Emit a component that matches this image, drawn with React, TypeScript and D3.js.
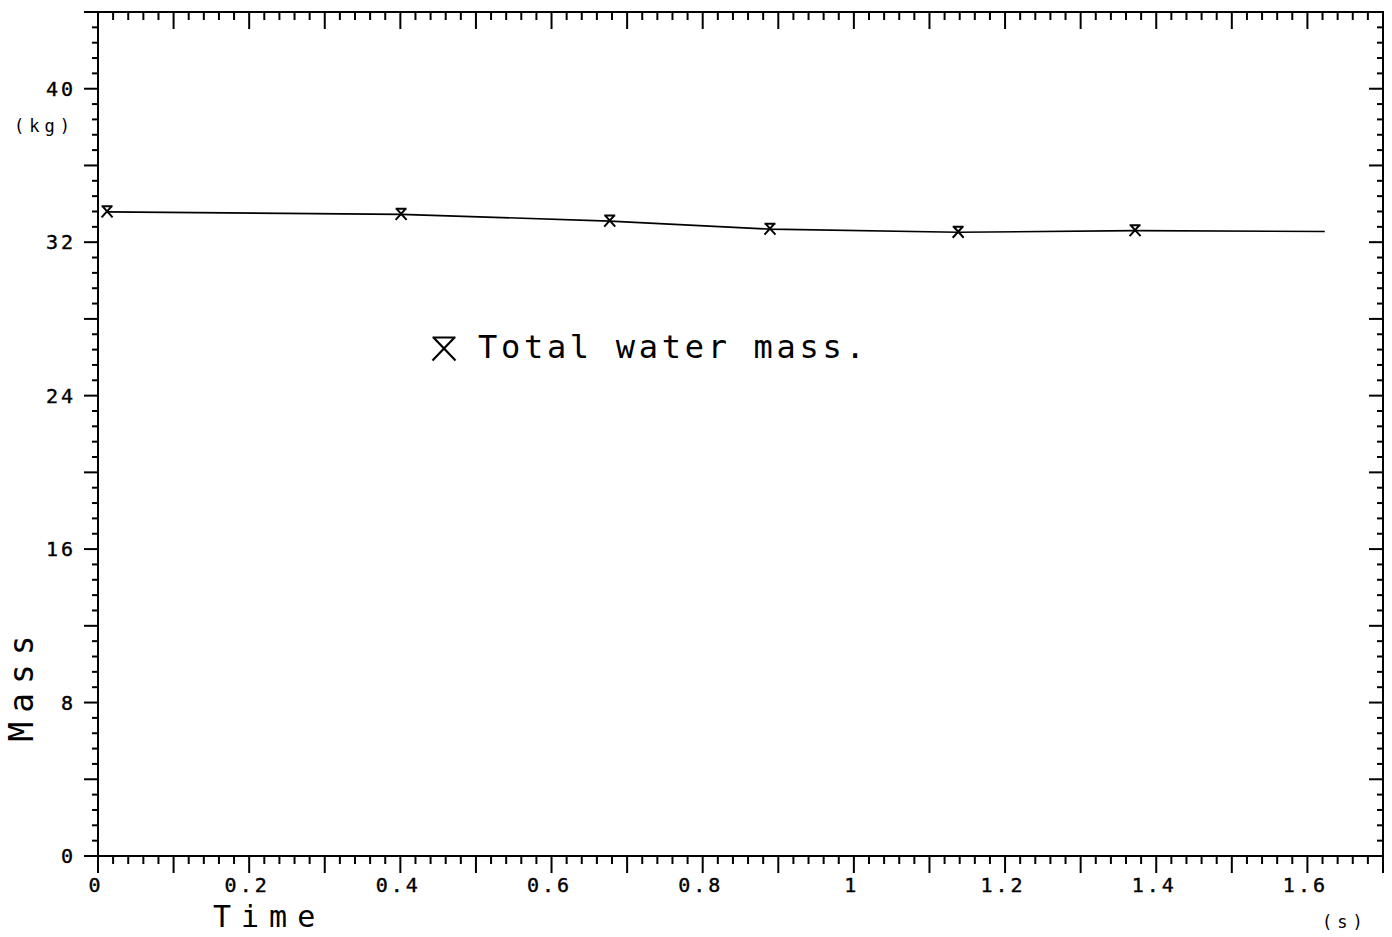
import * as d3 from 'd3';
import React, { useRef, useEffect } from 'react';

// time (s) and total water mass (kg)
const timeValues = [0.012, 0.401, 0.677, 0.889, 1.138, 1.372, 1.623];
const massValues = [33.58, 33.45, 33.1, 32.68, 32.52, 32.6, 32.56];
const markerCount = 6; // the last line point has no marker

const xLabels = ['0', '0.2', '0.4', '0.6', '0.8', '1', '1.2', '1.4', '1.6'];
const yLabels = ['0', '8', '16', '24', '32', '40'];

const W = 1392, H = 937;
const FONT = '"DejaVu Sans Mono", monospace';

const markerPath = (s) => {
    const h = s / 2;
    return `M${-h},${-h}L${h},${-h}M${-h + 1},${-h}L${h},${h}M${h - 1},${-h}L${-h},${h}`;
};

function Chart(){
    const ref = useRef();

    useEffect(() => {
        const svg = d3.select(ref.current);
        svg.selectAll('*').remove();

        const x = d3.scaleLinear().domain([0, 1.7]).range([98, 1383]);
        const y = d3.scaleLinear().domain([0, 44]).range([856, 12]);

        const xTicks = d3.range(0, 86).map(i => i * 0.02);
        const yTicks = d3.range(0, 56).map(i => i * 0.8);
        const isLong = (i) => i % 5 === 0;

        const g = svg.append('g').attr('stroke', '#000').attr('stroke-width', 2).attr('fill', 'none');

        // frame
        g.append('rect')
            .attr('x', x(0)).attr('y', y(44))
            .attr('width', x(1.7) - x(0)).attr('height', y(0) - y(44));

        // bottom ticks (outside)
        g.selectAll('.bt').data(xTicks).enter().append('line')
            .attr('x1', d => x(d)).attr('x2', d => x(d))
            .attr('y1', y(0)).attr('y2', (d, i) => y(0) + (isLong(i) ? 17 : 8));
        // top ticks (inside)
        g.selectAll('.tt').data(xTicks).enter().append('line')
            .attr('x1', d => x(d)).attr('x2', d => x(d))
            .attr('y1', y(44)).attr('y2', (d, i) => y(44) + (isLong(i) ? 17 : 8));
        // left ticks (outside)
        g.selectAll('.lt').data(yTicks).enter().append('line')
            .attr('y1', d => y(d)).attr('y2', d => y(d))
            .attr('x1', x(0)).attr('x2', (d, i) => x(0) - (isLong(i) ? 14 : 6));
        // right ticks (inside)
        g.selectAll('.rt').data(yTicks).enter().append('line')
            .attr('y1', d => y(d)).attr('y2', d => y(d))
            .attr('x1', x(1.7)).attr('x2', (d, i) => x(1.7) - (isLong(i) ? 14 : 6));

        // tick labels
        svg.selectAll('.xl').data(xLabels).enter().append('text')
            .attr('x', d => x(+d) - 2).attr('y', 892)
            .attr('text-anchor', 'middle')
            .attr('font-family', FONT).attr('font-size', 20).attr('letter-spacing', 3)
            .attr('stroke', '#000').attr('stroke-width', 0.4)
            .text(d => d);
        svg.selectAll('.yl').data(yLabels).enter().append('text')
            .attr('x', 76).attr('y', d => y(+d) + 7)
            .attr('text-anchor', 'end')
            .attr('font-family', FONT).attr('font-size', 20).attr('letter-spacing', 3)
            .attr('stroke', '#000').attr('stroke-width', 0.4)
            .text(d => d);

        // units and axis titles
        svg.append('text').attr('x', 14).attr('y', 132)
            .attr('font-family', FONT).attr('font-size', 17).attr('letter-spacing', 5)
            .text('(kg)');
        svg.append('text').attr('x', 1322).attr('y', 928)
            .attr('font-family', FONT).attr('font-size', 17).attr('letter-spacing', 5)
            .text('(s)');
        svg.append('text').attr('x', 213).attr('y', 927)
            .attr('font-family', FONT).attr('font-size', 30).attr('letter-spacing', 10)
            .text('Time');
        svg.append('text')
            .attr('transform', 'translate(33,684) rotate(-90)')
            .attr('text-anchor', 'middle')
            .attr('font-family', FONT).attr('font-size', 33).attr('letter-spacing', 9)
            .text('Mass');

        // data line
        const pts = timeValues.map((t, i) => [t, massValues[i]]);
        const line = d3.line().x(d => x(d[0])).y(d => y(d[1]));
        svg.append('path').datum(pts)
            .attr('d', line)
            .attr('fill', 'none').attr('stroke', '#000').attr('stroke-width', 1.6);

        // markers
        svg.selectAll('.mk').data(pts.slice(0, markerCount)).enter().append('path')
            .attr('transform', d => `translate(${x(d[0])},${y(d[1])})`)
            .attr('d', markerPath(11))
            .attr('fill', 'none').attr('stroke', '#000').attr('stroke-width', 2);

        // legend
        svg.append('path')
            .attr('transform', 'translate(444,349)')
            .attr('d', markerPath(23))
            .attr('fill', 'none').attr('stroke', '#000').attr('stroke-width', 2.2);
        svg.append('text').attr('x', 478).attr('y', 358)
            .attr('font-family', FONT).attr('font-size', 32).attr('letter-spacing', 3.7)
            .text('Total water mass.');
    }, []);

    return (
        <svg ref={ref} width={W} height={H}
            style={{ position: 'absolute', left: 0, top: 0, background: '#fff' }}>
        </svg>
    );
}

export default function App(){
    return <Chart />;
}
